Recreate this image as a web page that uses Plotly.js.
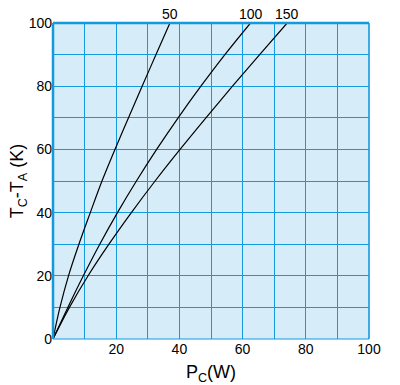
<!DOCTYPE html>
<html>
<head>
<meta charset="utf-8">
<script src="https://cdn.plot.ly/plotly-3.0.1.min.js"></script>
<style>
  html, body { margin: 0; padding: 0; background: #ffffff; }
  #chart { width: 400px; height: 385px; }
</style>
</head>
<body>
<div id="chart"></div>
<script>
// Temperature rise Tc-Ta (K) sample points
const tempRise = [0, 10, 20, 30, 40, 50, 60, 70, 80, 90, 100];
// Power Pc (W) at each temperature rise, per curve
const power50  = [0, 2.2, 4.9, 8.2, 11.8, 15.5, 19.6, 23.9, 28.2, 32.6, 37.0];
const power100 = [0, 4.7, 9.6, 14.8, 20.4, 26.4, 32.8, 39.6, 46.8, 54.4, 62.5];
const power150 = [0, 5.2, 11.1, 17.7, 24.8, 32.3, 40.2, 48.4, 56.8, 65.4, 74.1];
const curveLabels = ["50", "100", "150"];
const xTickVals = [20, 40, 60, 80, 100];
const yTickVals = [0, 20, 40, 60, 80, 100];

const seriesList = [power50, power100, power150];

const traces = seriesList.map((pw, i) => ({
  x: pw,
  y: tempRise,
  type: 'scatter',
  mode: 'lines',
  name: curveLabels[i],
  line: { color: '#000000', width: 1.2, shape: 'spline', smoothing: 1 },
  hoverinfo: 'skip',
  showlegend: false
}));

const labelFont = { family: 'Liberation Sans, Arial, sans-serif', size: 14, color: '#000000' };

const annotations = seriesList.map((pw, i) => ({
  x: pw[pw.length - 1],
  y: tempRise[tempRise.length - 1],
  xref: 'x', yref: 'y',
  text: curveLabels[i],
  showarrow: false,
  yanchor: 'bottom',
  xanchor: 'center',
  yshift: -1,
  font: labelFont
}));

const gridColor = '#1399de';
const shapes = [
  { type: 'line', xref: 'paper', yref: 'paper', x0: 0, x1: 0, y0: 0, y1: 1,
    line: { color: gridColor, width: 2.5 } },
  { type: 'line', xref: 'paper', yref: 'paper', x0: 0, x1: 1, y0: 1, y1: 1,
    line: { color: gridColor, width: 2.5 } },
  { type: 'line', xref: 'paper', yref: 'paper', x0: 1, x1: 1, y0: 0, y1: 1,
    line: { color: gridColor, width: 1.6 } },
  { type: 'line', xref: 'paper', yref: 'paper', x0: 0, x1: 1, y0: 0, y1: 0,
    line: { color: gridColor, width: 1.2 } }
];

const titleFont = { family: 'Liberation Sans, Arial, sans-serif', size: 18, color: '#000000' };

function axisBase(tickVals) {
  return {
    range: [0, 100],
    tickmode: 'array',
    tickvals: tickVals,
    ticktext: tickVals.map(String),
    showgrid: true,
    gridcolor: gridColor,
    gridwidth: 1,
    minor: { tickmode: 'array', tickvals: [10, 30, 50, 70, 90], showgrid: true, gridcolor: gridColor, gridwidth: 1, ticks: '' },
    zeroline: false,
    showline: false,
    ticks: '',
    tickfont: labelFont,
    fixedrange: true
  };
}

const layout = {
  width: 400,
  height: 385,
  margin: { l: 53, r: 31, t: 23, b: 46 },
  paper_bgcolor: '#ffffff',
  plot_bgcolor: '#d6edf9',
  font: labelFont,
  xaxis: Object.assign(axisBase(xTickVals), {
    title: { text: 'P<sub>C</sub>(W)', font: titleFont, standoff: 9 }
  }),
  yaxis: Object.assign(axisBase(yTickVals), {
    title: { text: 'T<sub>C</sub>-T<sub>A</sub> (K)', font: titleFont, standoff: 0 }
  }),
  shapes: shapes,
  annotations: annotations
};

Plotly.newPlot('chart', traces, layout, { displayModeBar: false, staticPlot: true });
</script>
</body>
</html>
